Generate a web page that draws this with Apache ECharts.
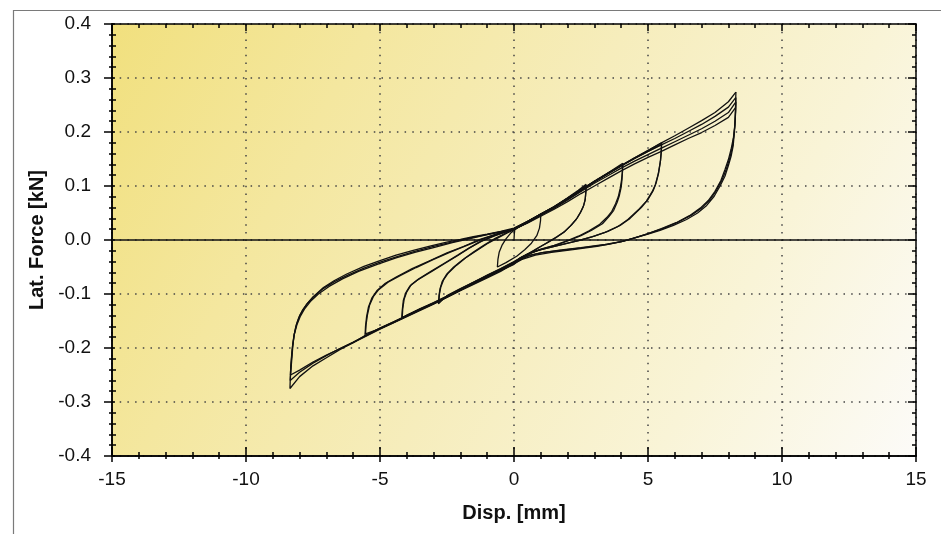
<!DOCTYPE html>
<html>
<head>
<meta charset="utf-8">
<script src="https://cdn.jsdelivr.net/npm/echarts@6/dist/echarts.min.js"></script>
<style>
html,body{margin:0;padding:0;background:#fff;}
#chart{width:941px;height:534px;}
</style>
</head>
<body>
<div id="chart"></div>
<script>
// ---- axis settings ----
const xTicks = [-15, -10, -5, 0, 5, 10, 15];
const yTicks = [-0.4, -0.3, -0.2, -0.1, 0.0, 0.1, 0.2, 0.3, 0.4];
const xTitle = 'Disp. [mm]';
const yTitle = 'Lat. Force [kN]';

// ---- hysteresis data [disp mm, force kN] ----
const initLoop = [[0,0],[0.01,0.01],[0.03,0.02],[0.3,0.027],[0.6,0.036],[1.0,0.048],[0.99,0.036],[0.95,0.022],[0.85,0.008],[0.65,-0.006],[0.4,-0.018],[0.1,-0.03],[-0.3,-0.042],[-0.62,-0.05],[-0.6,-0.036],[-0.55,-0.022],[-0.45,-0.01],[-0.3,0.002],[-0.1,0.014],[0.2,0.025],[0.6,0.036],[1.0,0.048]];

const loop27a = [[1.0,0.048],[1.5,0.062],[2.0,0.078],[2.4,0.092],[2.69,0.103],[2.68,0.09],[2.66,0.076],[2.6,0.064],[2.5,0.053],[2.36,0.041],[2.15,0.028],[1.9,0.016],[1.6,0.006],[1.3,-0.003],[1.0,-0.012],[0.7,-0.021],[0.3,-0.031],[0,-0.04],[-0.5,-0.053],[-1,-0.065],[-1.5,-0.078],[-2,-0.09],[-2.5,-0.103],[-2.82,-0.118],[-2.8,-0.103],[-2.76,-0.09],[-2.68,-0.077],[-2.52,-0.064],[-2.25,-0.05],[-1.9,-0.036],[-1.5,-0.022],[-1.1,-0.009],[-0.7,0.003],[-0.3,0.013],[0,0.02],[0.5,0.033],[1,0.047],[1.5,0.06],[2,0.076],[2.4,0.089],[2.69,0.1]];

const loop27b = [[2.69,0.1],[2.68,0.087],[2.65,0.073],[2.58,0.061],[2.47,0.05],[2.32,0.038],[2.1,0.026],[1.85,0.014],[1.55,0.004],[1.25,-0.005],[0.95,-0.013],[0.65,-0.022],[0.3,-0.032],[0,-0.041],[-0.5,-0.054],[-1,-0.066],[-1.5,-0.079],[-2,-0.091],[-2.5,-0.104],[-2.8,-0.114],[-2.78,-0.1],[-2.73,-0.087],[-2.63,-0.074],[-2.45,-0.061],[-2.15,-0.047],[-1.8,-0.033],[-1.4,-0.02],[-1.0,-0.007],[-0.6,0.004],[-0.25,0.013],[0,0.019],[0.5,0.032],[1,0.046],[1.5,0.06],[2,0.075],[2.5,0.091],[3,0.108],[3.5,0.124],[4.06,0.142]];

const loop41a = [[4.06,0.142],[4.05,0.128],[4.03,0.112],[4.0,0.098],[3.93,0.082],[3.85,0.07],[3.72,0.055],[3.55,0.044],[3.3,0.03],[2.9,0.018],[2.5,0.008],[2.1,0.0],[1.6,-0.009],[1.1,-0.016],[0.7,-0.023],[0.3,-0.032],[0,-0.041],[-0.5,-0.054],[-1,-0.066],[-1.5,-0.078],[-2,-0.091],[-2.5,-0.104],[-3,-0.116],[-3.5,-0.127],[-4,-0.139],[-4.19,-0.146],[-4.17,-0.13],[-4.13,-0.112],[-4.04,-0.098],[-3.88,-0.085],[-3.6,-0.074],[-3.13,-0.06],[-2.6,-0.044],[-2.14,-0.03],[-1.7,-0.016],[-1.3,-0.004],[-0.8,0.007],[-0.3,0.015],[0,0.021],[0.5,0.034],[1,0.048],[1.5,0.061],[2,0.077],[2.5,0.093],[3,0.108],[3.5,0.123],[4.05,0.139]];

const loop41b = [[4.05,0.139],[4.04,0.125],[4.01,0.11],[3.96,0.095],[3.89,0.08],[3.79,0.067],[3.65,0.053],[3.47,0.042],[3.2,0.029],[2.8,0.017],[2.4,0.007],[2.0,-0.001],[1.5,-0.01],[1.0,-0.017],[0.65,-0.024],[0.3,-0.033],[0,-0.042],[-0.5,-0.055],[-1,-0.067],[-1.5,-0.079],[-2,-0.092],[-2.5,-0.105],[-3,-0.117],[-3.5,-0.128],[-4,-0.14],[-4.17,-0.143],[-4.15,-0.127],[-4.1,-0.11],[-4.0,-0.096],[-3.84,-0.083],[-3.55,-0.072],[-3.1,-0.058],[-2.6,-0.043],[-2.1,-0.028],[-1.65,-0.014],[-1.2,-0.002],[-0.7,0.008],[-0.3,0.015],[0,0.021],[0.5,0.034],[1,0.047],[1.5,0.061],[2,0.076],[2.5,0.092],[3,0.108],[3.5,0.123],[4,0.138],[4.5,0.152],[5,0.166],[5.51,0.18]];

const loop55a = [[5.51,0.18],[5.5,0.165],[5.47,0.148],[5.4,0.125],[5.3,0.105],[5.2,0.092],[5.0,0.075],[4.75,0.06],[4.33,0.04],[3.96,0.027],[3.5,0.016],[3.0,0.007],[2.5,0.0],[2.0,-0.006],[1.5,-0.012],[1.0,-0.018],[0.6,-0.024],[0.3,-0.032],[0,-0.042],[-0.5,-0.055],[-1,-0.067],[-1.5,-0.079],[-2,-0.092],[-2.5,-0.105],[-3,-0.117],[-3.5,-0.128],[-4,-0.14],[-4.5,-0.152],[-5,-0.163],[-5.56,-0.178],[-5.54,-0.16],[-5.5,-0.142],[-5.43,-0.124],[-5.3,-0.107],[-5.12,-0.094],[-4.8,-0.08],[-4.38,-0.068],[-3.8,-0.053],[-3.13,-0.038],[-2.5,-0.024],[-1.89,-0.012],[-1.27,0.001],[-0.6,0.012],[0,0.021],[0.5,0.034],[1,0.048],[1.5,0.061],[2,0.077],[2.5,0.093],[3,0.108],[3.5,0.123],[4,0.137],[4.5,0.151],[5,0.164],[5.5,0.177]];

const loop55b = [[5.5,0.177],[5.49,0.162],[5.46,0.145],[5.38,0.122],[5.27,0.102],[5.15,0.089],[4.94,0.072],[4.68,0.058],[4.25,0.038],[3.88,0.025],[3.4,0.014],[2.9,0.006],[2.4,-0.001],[1.9,-0.007],[1.4,-0.013],[0.9,-0.019],[0.5,-0.026],[0.2,-0.034],[0,-0.043],[-0.5,-0.056],[-1,-0.068],[-1.5,-0.08],[-2,-0.093],[-2.5,-0.106],[-3,-0.118],[-3.5,-0.129],[-4,-0.141],[-4.5,-0.153],[-5,-0.164],[-5.54,-0.174],[-5.52,-0.157],[-5.47,-0.139],[-5.39,-0.121],[-5.25,-0.105],[-5.05,-0.092],[-4.7,-0.078],[-4.25,-0.066],[-3.65,-0.051],[-3.0,-0.036],[-2.4,-0.023],[-1.8,-0.011],[-1.2,0.001],[-0.6,0.012],[0,0.021],[0.5,0.034],[1,0.048],[1.5,0.062],[2,0.077],[2.5,0.093],[3,0.109],[3.5,0.124],[4,0.138],[4.5,0.152],[5,0.165],[5.5,0.18],[6,0.193],[6.5,0.207],[7,0.221],[7.5,0.236],[8,0.256],[8.28,0.274]];

const loop83a = [[8.28,0.274],[8.27,0.255],[8.26,0.232],[8.24,0.21],[8.18,0.175],[8.1,0.155],[8.0,0.138],[7.87,0.118],[7.69,0.1],[7.47,0.081],[7.19,0.064],[6.85,0.05],[6.44,0.038],[5.95,0.027],[5.45,0.018],[5.0,0.011],[4.5,0.004],[4.0,-0.003],[3.5,-0.008],[3.1,-0.012],[2.2,-0.018],[1.4,-0.023],[0.8,-0.028],[0.3,-0.036],[0,-0.044],[-0.5,-0.056],[-1,-0.068],[-1.5,-0.08],[-2,-0.092],[-3,-0.117],[-4,-0.14],[-5,-0.163],[-5.56,-0.177],[-6,-0.19],[-6.5,-0.203],[-7,-0.218],[-7.5,-0.233],[-8,-0.253],[-8.36,-0.275],[-8.35,-0.26],[-8.33,-0.245],[-8.29,-0.22],[-8.25,-0.195],[-8.2,-0.175],[-8.11,-0.155],[-8.0,-0.14],[-7.86,-0.128],[-7.7,-0.117],[-7.49,-0.105],[-7.11,-0.088],[-6.7,-0.075],[-6.24,-0.063],[-5.6,-0.049],[-5,-0.038],[-4.4,-0.028],[-3.76,-0.019],[-3.1,-0.011],[-2.51,-0.004],[-2,0.001],[-1.52,0.006],[-1,0.011],[-0.5,0.016],[0,0.022],[0.5,0.034],[1,0.048],[1.5,0.061],[2,0.077],[2.5,0.093],[3,0.108],[3.5,0.123],[4,0.137],[4.5,0.151],[5,0.164],[5.5,0.176],[6,0.188],[6.5,0.201],[7,0.214],[7.5,0.229],[8,0.246],[8.28,0.264]];

const loop83b = [[8.28,0.264],[8.27,0.245],[8.25,0.22],[8.21,0.195],[8.14,0.17],[8.04,0.15],[7.92,0.131],[7.77,0.112],[7.57,0.093],[7.32,0.075],[7.02,0.06],[6.62,0.046],[6.12,0.033],[5.6,0.022],[5.0,0.012],[4.5,0.004],[4.1,-0.002],[3.5,-0.008],[2.6,-0.014],[1.8,-0.019],[1.1,-0.023],[0.6,-0.028],[0.2,-0.037],[0,-0.045],[-0.5,-0.057],[-1,-0.069],[-1.5,-0.081],[-2,-0.093],[-3,-0.118],[-4,-0.141],[-5,-0.164],[-6,-0.189],[-6.5,-0.201],[-7,-0.214],[-7.5,-0.228],[-8,-0.245],[-8.35,-0.26],[-8.34,-0.245],[-8.31,-0.225],[-8.27,-0.2],[-8.22,-0.18],[-8.14,-0.16],[-8.03,-0.144],[-7.9,-0.131],[-7.72,-0.118],[-7.5,-0.106],[-7.15,-0.091],[-6.7,-0.077],[-6.2,-0.065],[-5.6,-0.052],[-5,-0.041],[-4.3,-0.03],[-3.7,-0.021],[-3,-0.012],[-2.4,-0.005],[-1.8,0.002],[-1.3,0.007],[-0.7,0.013],[0,0.02],[0.5,0.032],[1,0.046],[1.5,0.059],[2,0.074],[2.5,0.09],[3,0.105],[3.5,0.119],[4,0.133],[4.5,0.146],[5,0.158],[5.5,0.17],[6,0.182],[6.5,0.194],[7,0.206],[7.5,0.22],[8,0.236],[8.28,0.256]];

const loop83c = [[8.28,0.256],[8.27,0.237],[8.24,0.212],[8.19,0.19],[8.1,0.168],[8.0,0.149],[7.87,0.13],[7.72,0.11],[7.5,0.09],[7.25,0.073],[6.95,0.059],[6.55,0.045],[6.05,0.032],[5.5,0.021],[4.95,0.011],[4.45,0.003],[4.0,-0.003],[3.4,-0.008],[2.5,-0.014],[1.7,-0.019],[1.0,-0.024],[0.5,-0.03],[0.1,-0.04],[-0.5,-0.058],[-1,-0.07],[-2,-0.094],[-3,-0.119],[-4,-0.142],[-5,-0.165],[-6,-0.19],[-7,-0.213],[-7.5,-0.226],[-8,-0.241],[-8.34,-0.25],[-8.33,-0.235],[-8.3,-0.215],[-8.26,-0.195],[-8.2,-0.175],[-8.1,-0.157],[-7.98,-0.142],[-7.82,-0.128],[-7.6,-0.114],[-7.3,-0.1],[-6.9,-0.086],[-6.4,-0.072],[-5.8,-0.058],[-5.1,-0.045],[-4.4,-0.033],[-3.7,-0.023],[-3,-0.014],[-2.3,-0.005],[-1.6,0.003],[-1,0.01],[-0.4,0.016],[0,0.02],[0.5,0.031],[1,0.044],[1.5,0.057],[2,0.071],[2.5,0.086],[3,0.1],[3.5,0.114],[4,0.128],[4.5,0.141],[5,0.153],[5.5,0.164],[6,0.176],[6.5,0.188],[7,0.199],[7.5,0.212],[8,0.227],[8.28,0.246]];

const loops = [initLoop, loop27a, loop27b, loop41a, loop41b, loop55a, loop55b, loop83a, loop83b, loop83c];

const FONT = '"Liberation Sans", Arial, sans-serif';
const chart = echarts.init(document.getElementById('chart'), null, {renderer: 'canvas'});

const xBase = {type: 'value', min: xTicks[0], max: xTicks[xTicks.length - 1], interval: 5};
const yBase = {type: 'value', min: yTicks[0], max: yTicks[yTicks.length - 1], interval: 0.1};
const lineBlack = {show: true, onZero: false, lineStyle: {color: '#000', width: 1.5}};

const series = loops.map((d, i) => ({
  type: 'line',
  data: d,
  xAxisIndex: 0,
  yAxisIndex: 0,
  showSymbol: false,
  symbol: 'none',
  silent: true,
  animation: false,
  lineStyle: {color: '#111', width: 1.3},
  markLine: i === 0 ? {
    silent: true,
    symbol: ['none', 'none'],
    label: {show: false},
    lineStyle: {color: '#111', width: 1.6, type: 'solid'},
    data: [{yAxis: 0}]
  } : undefined
}));

chart.setOption({
  animation: false,
  backgroundColor: '#fff',
  grid: {
    left: 112, right: 25, top: 24, bottom: 78,
    show: true, borderWidth: 0,
    backgroundColor: {
      type: 'linear', x: 0, y: 0, x2: 1, y2: 1,
      colorStops: [
        {offset: 0, color: '#F1E07E'},
        {offset: 0.25, color: '#F4E79F'},
        {offset: 0.5, color: '#F6EDBC'},
        {offset: 0.75, color: '#F9F4D7'},
        {offset: 1, color: '#FCFBF8'}
      ]
    },
    containLabel: false,
    outerBoundsMode: 'none'
  },
  graphic: [{
    type: 'rect', silent: true, z: 100,
    shape: {x: 13.5, y: 10.5, width: 1000, height: 600},
    style: {fill: 'none', stroke: '#7a7a7a', lineWidth: 1.2}
  }],
  xAxis: [
    Object.assign({}, xBase, {
      position: 'bottom',
      axisLine: lineBlack,
      axisTick: {show: true, inside: false, length: 6, lineStyle: {color: '#000', width: 1.5}},
      minorTick: {show: true, splitNumber: 5, length: 3, lineStyle: {color: '#000', width: 1.5}},
      axisLabel: {show: true, margin: 14, color: '#111', fontSize: 19, fontFamily: FONT,
        formatter: v => String(Math.round(v))},
      splitLine: {show: true, lineStyle: {color: '#444', width: 1.5, type: [1.5, 6.2]}},
      name: xTitle, nameLocation: 'middle', nameGap: 47,
      nameTextStyle: {color: '#111', fontSize: 20, fontWeight: 'bold', fontFamily: FONT}
    }),
    Object.assign({}, xBase, {
      position: 'bottom',
      axisLine: lineBlack,
      axisTick: {show: true, inside: true, length: 9, lineStyle: {color: '#000', width: 1.5}},
      minorTick: {show: true, splitNumber: 5, length: 4, lineStyle: {color: '#000', width: 1.5}},
      axisLabel: {show: false}, splitLine: {show: false}
    }),
    Object.assign({}, xBase, {
      position: 'top',
      axisLine: lineBlack,
      axisTick: {show: true, inside: true, length: 7, lineStyle: {color: '#000', width: 1.5}},
      minorTick: {show: true, splitNumber: 5, length: 4, lineStyle: {color: '#000', width: 1.5}},
      axisLabel: {show: false}, splitLine: {show: false}
    })
  ],
  yAxis: [
    Object.assign({}, yBase, {
      position: 'left',
      axisLine: lineBlack,
      axisTick: {show: true, inside: false, length: 8, lineStyle: {color: '#000', width: 1.5}},
      minorTick: {show: true, splitNumber: 5, length: 3, lineStyle: {color: '#000', width: 1.5}},
      axisLabel: {show: true, margin: 21, color: '#111', fontSize: 19, fontFamily: FONT,
        formatter: v => (Math.abs(v) < 1e-9 ? 0 : v).toFixed(1)},
      splitLine: {show: true, lineStyle: {color: '#444', width: 1.5, type: [1.5, 6.2]}},
      name: yTitle, nameLocation: 'middle', nameGap: 64, nameRotate: 90,
      nameTextStyle: {color: '#111', fontSize: 20, fontWeight: 'bold', fontFamily: FONT}
    }),
    Object.assign({}, yBase, {
      position: 'left',
      axisLine: lineBlack,
      axisTick: {show: true, inside: true, length: 3, lineStyle: {color: '#000', width: 1.5}},
      minorTick: {show: true, splitNumber: 5, length: 4, lineStyle: {color: '#000', width: 1.5}},
      axisLabel: {show: false}, splitLine: {show: false}
    }),
    Object.assign({}, yBase, {
      position: 'right',
      axisLine: lineBlack,
      axisTick: {show: true, inside: true, length: 8, lineStyle: {color: '#000', width: 1.5}},
      minorTick: {show: true, splitNumber: 5, length: 4, lineStyle: {color: '#000', width: 1.5}},
      axisLabel: {show: false}, splitLine: {show: false}
    })
  ],
  series: series
});
</script>
</body>
</html>
